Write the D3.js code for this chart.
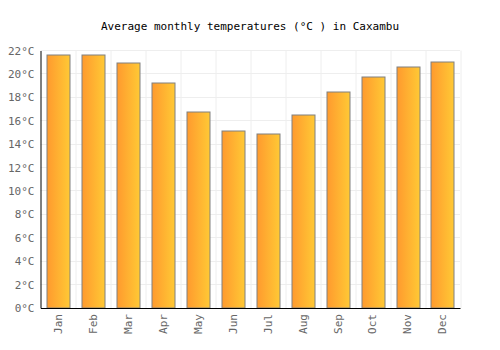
<!DOCTYPE html>
<html>
<head>
<meta charset="utf-8">
<script src="https://cdn.jsdelivr.net/npm/d3@7"></script>
<style>
  body { margin: 0; background: #fff; }
  text { font-family: "DejaVu Sans Mono", monospace; }
</style>
</head>
<body>
<svg id="chart" width="500" height="350"></svg>
<script>
const months = ["Jan", "Feb", "Mar", "Apr", "May", "Jun", "Jul", "Aug", "Sep", "Oct", "Nov", "Dec"];
const temps = [21.7, 21.7, 21.0, 19.3, 16.8, 15.2, 14.9, 16.5, 18.5, 19.8, 20.6, 21.1];
const yTicks = [0, 2, 4, 6, 8, 10, 12, 14, 16, 18, 20, 22];

const svg = d3.select("#chart");
const margin = { top: 50.5, right: 40, bottom: 42, left: 40.5 };
const width = 460 - margin.left;
const height = 308 - margin.top;

// gradient for bars
const defs = svg.append("defs");
const grad = defs.append("linearGradient").attr("id", "barGrad")
  .attr("x1", "0%").attr("x2", "100%").attr("y1", "0%").attr("y2", "0%");
grad.append("stop").attr("offset", "0%").attr("stop-color", "#ff9a2e");
grad.append("stop").attr("offset", "100%").attr("stop-color", "#ffc935");

const g = svg.append("g").attr("transform", `translate(${margin.left},${margin.top})`);

const x = d3.scaleBand().domain(months).range([0, width]).paddingInner(0.34).paddingOuter(0.17);
const y = d3.scaleLinear().domain([0, 22]).range([height, 0]);

// grid
const step = width / months.length;
g.append("g").selectAll("line.vg")
  .data(d3.range(1, months.length + 1))
  .enter().append("line")
  .attr("x1", d => Math.round(d * step) + 0.5).attr("x2", d => Math.round(d * step) + 0.5)
  .attr("y1", 0).attr("y2", height)
  .attr("stroke", "#eeeeee");

g.append("g").selectAll("line.hg")
  .data(yTicks.slice(1))
  .enter().append("line")
  .attr("x1", 0).attr("x2", width)
  .attr("y1", d => Math.round(y(d)) + 0.5 - 0.5).attr("y2", d => Math.round(y(d)) + 0.5 - 0.5)
  .attr("stroke", "#eeeeee");

// bars
g.selectAll("rect.bar")
  .data(temps)
  .enter().append("rect")
  .attr("class", "bar")
  .attr("x", (d, i) => Math.round(x(months[i])) + 0.5)
  .attr("width", Math.round(x.bandwidth()))
  .attr("y", d => Math.round(y(d)) + 0.5)
  .attr("height", d => height - Math.round(y(d)) - 0.5)
  .attr("fill", "url(#barGrad)")
  .attr("stroke", "#808080")
  .attr("stroke-width", 1);

// axes
const yAxis = g.append("g")
  .call(d3.axisLeft(y).tickValues(yTicks).tickSize(0).tickPadding(6).tickFormat(d => d + "°C"));
yAxis.select(".domain").attr("stroke", "#000");
yAxis.selectAll("text").attr("fill", "#666").style("font-size", "11px").style("font-family", "DejaVu Sans Mono, monospace");

const xAxis = g.append("g")
  .attr("transform", `translate(0,${height})`)
  .call(d3.axisBottom(x).tickSize(0).tickPadding(0));
xAxis.select(".domain").attr("stroke", "#000");
xAxis.selectAll("text")
  .attr("fill", "#666")
  .style("font-size", "11px")
  .style("font-family", "DejaVu Sans Mono, monospace")
  .attr("transform", "rotate(-90)")
  .attr("text-anchor", "end")
  .attr("x", -6)
  .attr("y", 0)
  .attr("dy", "0.35em");

// title
svg.append("text")
  .attr("x", 250)
  .attr("y", 30)
  .attr("text-anchor", "middle")
  .style("font-size", "11px")
  .attr("fill", "#000")
  .text("Average monthly temperatures (°C ) in Caxambu");
</script>
</body>
</html>
